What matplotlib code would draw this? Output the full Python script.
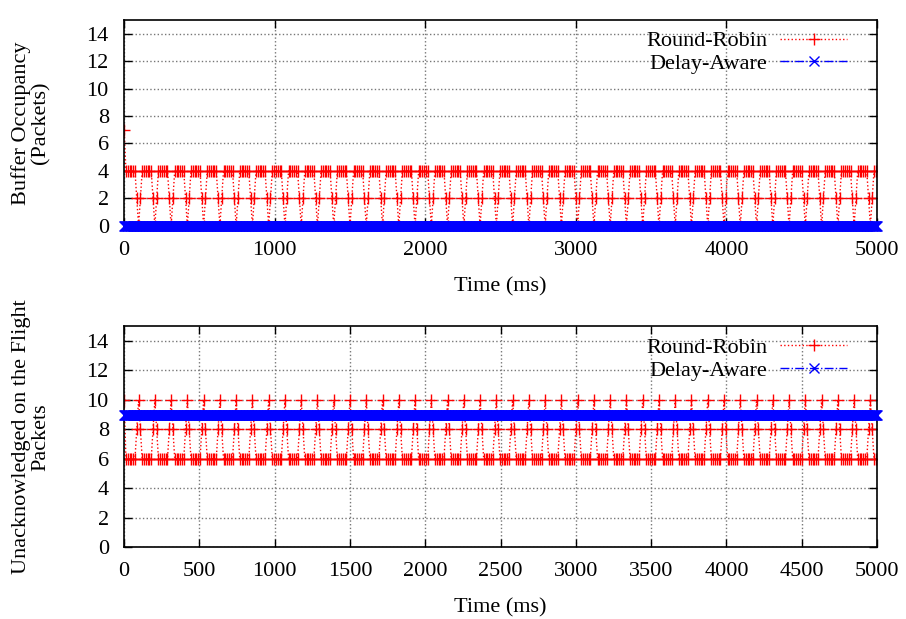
import numpy as np
import matplotlib
matplotlib.use("Agg")
from matplotlib import pyplot as plt

# sampling of the traces (ms)
step_ms = 12
end_ms = 5000

# one cycle of the round-robin buffer occupancy (packets)
rr_buf_cycle = [4, 4, 4, 4, 4, 4, 2, 0, 2]
rr_buf_start = [7]
# one cycle of round-robin unacknowledged packets in flight
rr_flight_cycle = [6, 6, 6, 6, 6, 6, 8, 10, 8]
rr_flight_start = [10]
# delay-aware scheduler: empty buffer, constant packets in flight
da_buffer = 0
da_inflight = 9
da_step_ms = 4

plt.rcParams['font.family'] = ['Liberation Serif', 'DejaVu Serif']
plt.rcParams['font.size'] = 16


def build_rr(start, cycle):
    n = end_ms // step_ms + 1
    t = np.arange(n) * step_ms
    reps = n // len(cycle) + 1
    vals = (start + cycle * reps)[:n]
    return t, np.array(vals, dtype=float)


def style_axes(ax, xticks):
    ax.set_xlim(0, end_ms)
    ax.set_ylim(0, 15)
    ax.set_yticks(range(0, 15, 2))
    ax.set_xticks(xticks)
    ax.grid(True, color='#777777', linestyle=':', linewidth=1.0)
    ax.tick_params(direction='in', top=True, right=True, length=6, width=1,
                   pad=11)
    ax.set_xlabel('Time (ms)', labelpad=12)
    for s in ax.spines.values():
        s.set_linewidth(1.2)
    leg = ax.legend(loc='upper right', frameon=False, markerfirst=False,
                    handlelength=3.0, borderaxespad=0.1, labelspacing=0.1,
                    handletextpad=0.6, bbox_to_anchor=(0.975, 1.0))
    for txt in leg.get_texts():
        txt.set_ha('right')


def draw(ax, t, rr, t_da, da_val):
    ax.plot(t, rr, color='red', linestyle=':', linewidth=1.0,
            marker='+', markersize=8, markeredgewidth=1.0,
            label='Round-Robin')
    ax.plot(t_da, np.full(t_da.shape, da_val, dtype=float), color='blue',
            linestyle='-.', linewidth=1.0, marker='x', markersize=6.5,
            markeredgewidth=1.0, label='Delay-Aware', clip_on=False,
            zorder=3)


def main():
    t, rr_buf = build_rr(rr_buf_start, rr_buf_cycle)
    _, rr_flight = build_rr(rr_flight_start, rr_flight_cycle)
    t_da = np.arange(0, end_ms + 1, da_step_ms)

    fig = plt.figure(figsize=(9.06, 6.19), dpi=100)
    ax1 = fig.add_axes([0.137, 0.635, 0.831, 0.333])
    ax2 = fig.add_axes([0.137, 0.116, 0.831, 0.357])

    draw(ax1, t, rr_buf, t_da, da_buffer)
    ax1.set_ylabel('Buffer Occupancy\n(Packets)', linespacing=1.0,
                   labelpad=26)
    style_axes(ax1, range(0, 5001, 1000))

    draw(ax2, t, rr_flight, t_da, da_inflight)
    ax2.set_ylabel('Unacknowledged on the Flight\nPackets', linespacing=1.0,
                   labelpad=26)
    style_axes(ax2, range(0, 5001, 500))

    fig.savefig('out.png', dpi=100)


if __name__ == "__main__":
    main()
